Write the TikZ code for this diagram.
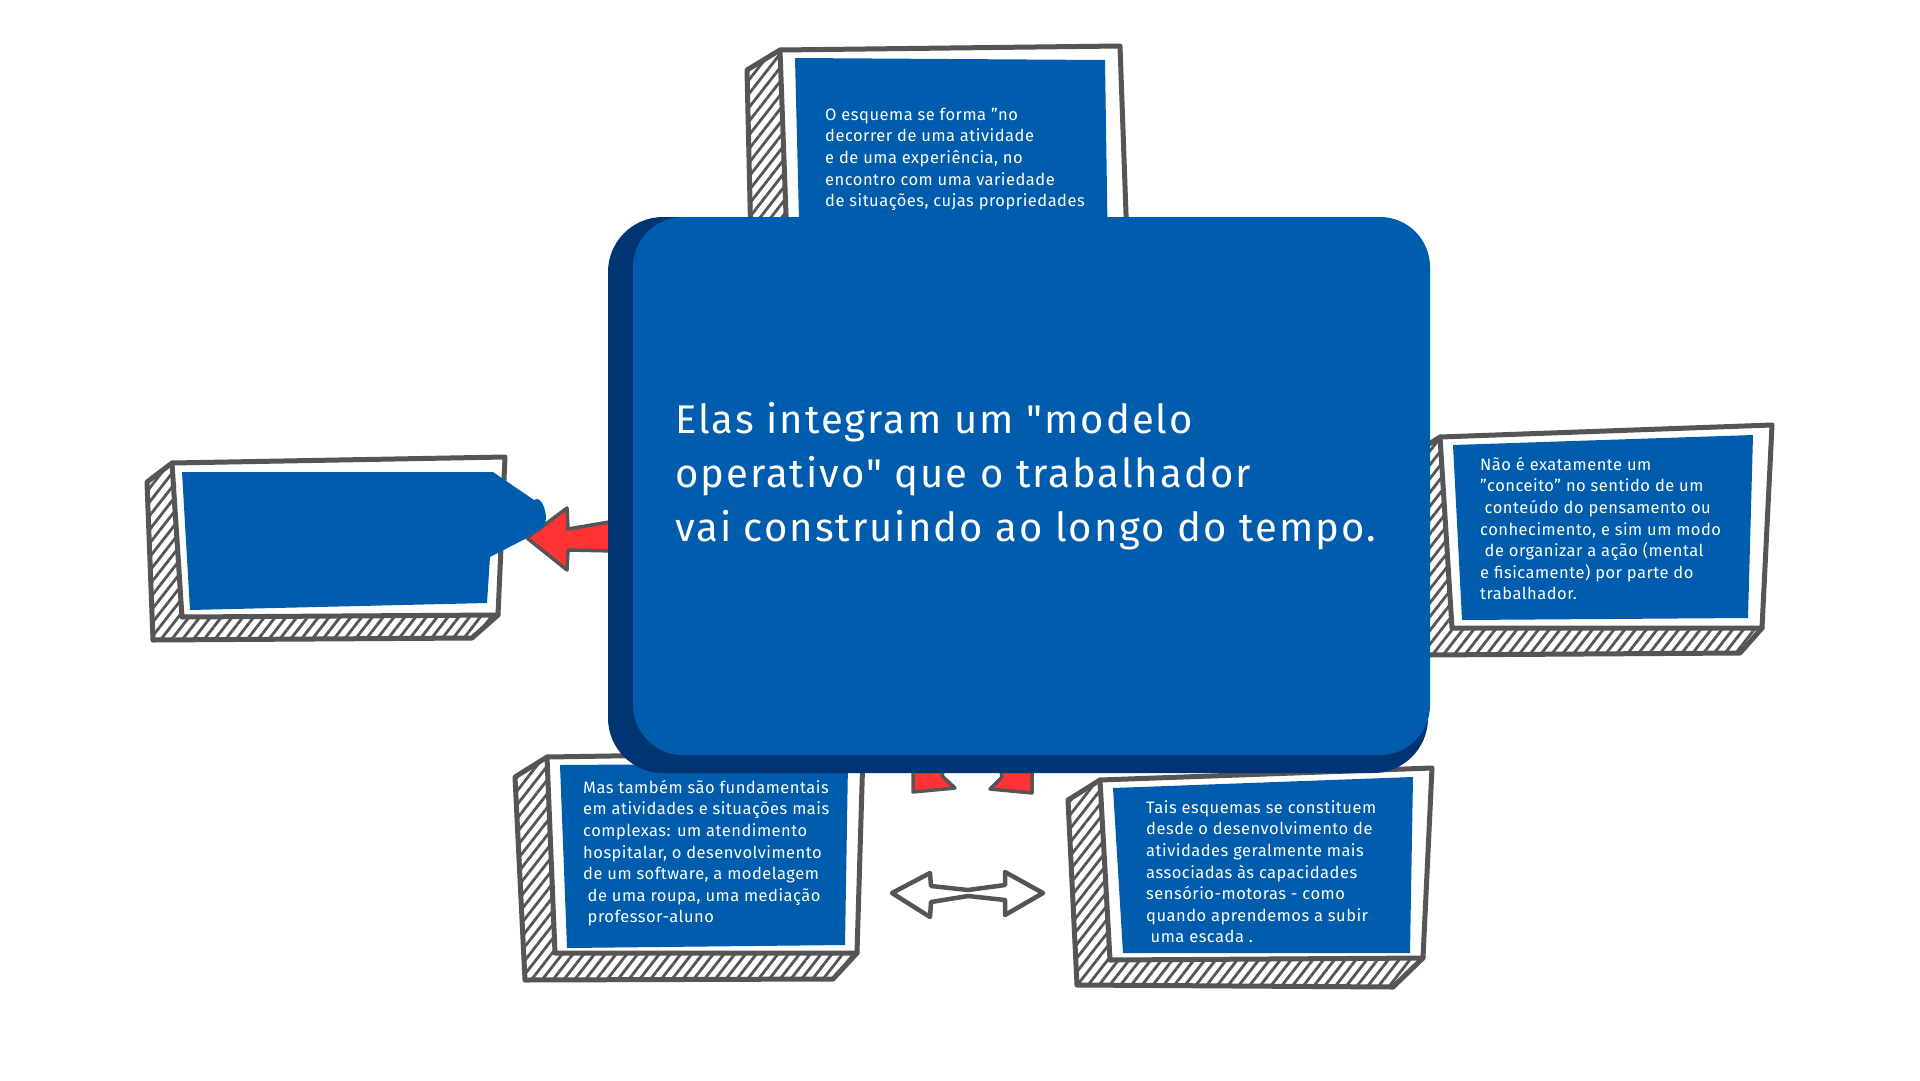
\documentclass[tikz,border=0pt]{standalone}
\usepackage{fontspec}
\setmainfont{Fira Sans}[LetterSpace=3]
\newfontfamily\bigfnt{Fira Sans}[LetterSpace=5]
\newcommand\dq{\char"22\relax}
\usetikzlibrary{patterns.meta}
\definecolor{bboxblue}{RGB}{0,92,172}
\definecolor{bdark}{RGB}{0,52,114}
\definecolor{fgray}{RGB}{85,85,85}
\definecolor{ared}{RGB}{255,51,51}
\tikzset{
  frameline/.style={draw=fgray, line width=5pt, line join=round, line cap=round},
  hatchfill/.style={pattern={Lines[angle=52,distance=8.5pt,line width=2.8pt]}, pattern color=fgray},
  bluefill/.style={fill=bboxblue},
  boxtext/.style={anchor=north west, inner sep=0pt, align=left, text=white, font=\fontsize{16.5}{21.6}\selectfont},
  maintext/.style={anchor=north west, inner sep=0pt, align=left, text=white, font=\bigfnt\fontsize{40}{54}\selectfont},
  redshape/.style={fill=ared, draw=fgray, line width=3.5pt, line join=round},
  grayarrow/.style={fill=white, draw=fgray, line width=4.5pt, line join=round},
}
\newcommand\skframe[1]{%
  \fill[white] (#1tl) -- (#1etl) -- (#1ebl) -- (#1ebr) -- (#1br) -- (#1bl) -- cycle;
  \fill[hatchfill] (#1tl) -- (#1etl) -- (#1ebl) -- (#1ebr) -- (#1br) -- (#1bl) -- cycle;
  \draw[frameline] (#1tl) -- (#1etl) -- (#1ebl) -- (#1ebr) -- (#1br);
  \filldraw[frameline, fill=white] (#1tl) -- (#1tr) -- (#1br) -- (#1bl) -- cycle;
}
\begin{document}
\begin{tikzpicture}[x=1pt,y=-1pt]
\fill[white] (0,0) rectangle (1920,1080);
\useasboundingbox (0,0) rectangle (1920,1080);

% ---------- top box ----------
\coordinate (ttl) at (780,50);  \coordinate (ttr) at (1120,46);
\coordinate (tbr) at (1128,270); \coordinate (tbl) at (788,270);
\coordinate (tetl) at (747,70); \coordinate (tebl) at (752,290); \coordinate (tebr) at (1100,292);
\skframe{t}
\fill[bluefill] (795,58) -- (1105,60) -- (1108,260) -- (800,260) -- cycle;
\node[boxtext] (toptext) at (825,104) {\rule{0pt}{16pt}O esquema se forma \dq no\\
decorrer de uma atividade\\
e de uma experiência, no\\
encontro com uma variedade\\
de situações, cujas propriedades};

% ---------- right box ----------
\coordinate (rtl) at (1440,437); \coordinate (rtr) at (1772,425);
\coordinate (rbr) at (1762,628); \coordinate (rbl) at (1452,628);
\coordinate (retl) at (1412,455); \coordinate (rebl) at (1425,655); \coordinate (rebr) at (1740,653);
\skframe{r}
\fill[bluefill] (1453,445) -- (1753,435) -- (1748,618) -- (1462,620) -- cycle;
\node[boxtext] (righttext) at (1480,454) {\rule{0pt}{16pt}Não é exatamente um\\
\dq conceito\dq{} no sentido de um\\
\hspace*{4.5pt}conteúdo do pensamento ou\\
conhecimento, e sim um modo\\
\hspace*{4.5pt}de organizar a ação (mental\\
e fisicamente) por parte do\\
trabalhador.};

% ---------- bottom-left box ----------
\coordinate (ptl) at (547,757); \coordinate (ptr) at (863,752);
\coordinate (pbr) at (857,953); \coordinate (pbl) at (555,953);
\coordinate (petl) at (515,777); \coordinate (pebl) at (525,980); \coordinate (pebr) at (833,979);
\skframe{p}
\fill[bluefill] (560,765) -- (848,763) -- (845,945) -- (567,948) -- cycle;
\node[boxtext] (bltext) at (583,777) {\rule{0pt}{16pt}Mas também são fundamentais\\
em atividades e situações mais\\
complexas: um atendimento\\
hospitalar, o desenvolvimento\\
de um software, a modelagem\\
\hspace*{4.5pt}de uma roupa, uma mediação\\
\hspace*{4.5pt}professor-aluno};

% ---------- bottom-right box ----------
\coordinate (qtl) at (1100,780); \coordinate (qtr) at (1432,768);
\coordinate (qbr) at (1423,958); \coordinate (qbl) at (1110,960);
\coordinate (qetl) at (1068,800); \coordinate (qebl) at (1077,985); \coordinate (qebr) at (1393,987);
\skframe{q}
\fill[bluefill] (1113,788) -- (1413,777) -- (1410,953) -- (1123,953) -- cycle;
\node[boxtext] (brtext) at (1146,797) {\rule{0pt}{16pt}Tais esquemas se constituem\\
desde o desenvolvimento de\\
atividades geralmente mais\\
associadas às capacidades\\
sensório-motoras - como\\
quando aprendemos a subir\\
\hspace*{4.5pt}uma escada .};

% ---------- double arrow ----------
\coordinate (dl) at (892,893); \coordinate (dr) at (1043,893);
\draw[grayarrow] (dl) -- (930,873) -- (931,886) -- (968,890) -- (1005,885) -- (1005,872)
  -- (dr) -- (1005,915) -- (1005,900) -- (968,896) -- (931,902) -- (930,917) -- cycle;

% ---------- red arrow pieces under main box ----------
\draw[redshape] (913,760) -- (913,792) -- (955,788) -- (942,776) -- (946,760) -- cycle;
\draw[redshape] (1032,760) -- (1032,793) -- (990,789) -- (1002,777) -- (999,760) -- cycle;

% ---------- red arrow to left box ----------
\coordinate (atip) at (527,538); \coordinate (abase) at (615,536);
\draw[redshape] (atip) -- (567,508) -- (568,529) -- (615,521) -- (615,551) -- (568,550) -- (567,570) -- cycle;

% ---------- left box ----------
\coordinate (ltl) at (172,463); \coordinate (ltr) at (505,457);
\coordinate (lbr) at (498,615); \coordinate (lbl) at (182,617);
\coordinate (letl) at (147,482); \coordinate (lebl) at (153,640); \coordinate (lebr) at (472,638);
\skframe{l}
\fill[bluefill] (182,472) -- (493,472) -- (534,500) to[out=35,in=90] (546,518) to[out=-90,in=40] (525,539)
  -- (490,557) -- (487,603) -- (190,610) -- cycle;

% ---------- main box ----------
\fill[bdark, rounded corners=55pt] (608,217) rectangle (1428,773);
\fill[bboxblue, rounded corners=50pt] (633,217) rectangle (1430,755);
\node[maintext] (main) at (675,397) {\rule{0pt}{36pt}Elas integram um \dq modelo\\
operativo\dq{} que o trabalhador\\
vai construindo ao longo do tempo.};
\end{tikzpicture}
\end{document}
